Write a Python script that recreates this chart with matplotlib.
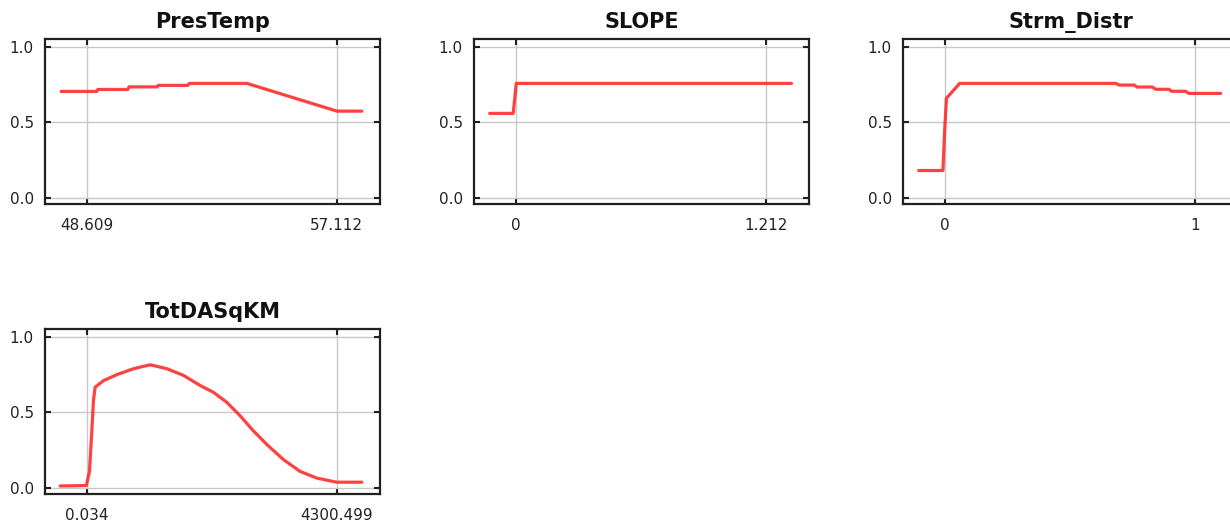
#!/usr/bin/env python3
"""Response curves for four predictor variables (2x3 grid, 4 panels)."""

import matplotlib
matplotlib.use('Agg')
import matplotlib.pyplot as plt

# Variable names and the two labelled x ticks of each panel
names = ['PresTemp', 'SLOPE', 'Strm_Distr', 'TotDASqKM']
tick_values = [(48.609, 57.112), (0.0, 1.212), (0.0, 1.0), (0.034, 4300.499)]
tick_labels = [('48.609', '57.112'), ('0', '1.212'), ('0', '1'), ('0.034', '4300.499')]

# Curves
prestemp_x = [47.74, 48.95, 48.99, 50.01, 50.05, 51.00, 51.04, 52.05, 52.10, 54.06, 57.12, 57.97]
prestemp_y = [0.705, 0.705, 0.718, 0.718, 0.735, 0.735, 0.745, 0.745, 0.758, 0.758, 0.575, 0.575]

slope_x = [-0.126, -0.012, 0.003, 1.337]
slope_y = [0.56, 0.56, 0.758, 0.758]

strm_x = [-0.104, -0.007, 0.0, 0.007, 0.06, 0.685, 0.698, 0.758, 0.769, 0.831, 0.844,
          0.897, 0.908, 0.964, 0.976, 1.104]
strm_y = [0.183, 0.183, 0.45, 0.66, 0.758, 0.758, 0.747, 0.747, 0.734, 0.734, 0.719,
          0.719, 0.706, 0.706, 0.692, 0.692]

totda_x = [-456, -5, 48, 89, 117, 146, 289, 519, 807, 1092, 1379, 1665, 1952, 2181,
           2411, 2640, 2869, 3099, 3385, 3672, 3959, 4300, 4733]
totda_y = [0.015, 0.018, 0.11, 0.38, 0.58, 0.667, 0.71, 0.75, 0.789, 0.815, 0.789,
           0.745, 0.678, 0.633, 0.567, 0.478, 0.378, 0.289, 0.189, 0.111, 0.067,
           0.04, 0.04]

curves = [(prestemp_x, prestemp_y), (slope_x, slope_y), (strm_x, strm_y), (totda_x, totda_y)]

W, H = 1230.0, 529.0
# axes boxes in pixels: (left, top)
boxes = [(45, 39), (474, 39), (903, 39), (45, 329)]
BOX_W, BOX_H = 335, 165


def draw_panel(fig, idx):
    left, top = boxes[idx]
    ax = fig.add_axes([left / W, 1 - (top + BOX_H) / H, BOX_W / W, BOX_H / H])
    t0, t1 = tick_values[idx]
    span = t1 - t0
    ax.set_xlim(t0 - 0.1667 * span, t0 + 1.1733 * span)
    ax.set_ylim(-0.038, 1.051)

    xs, ys = curves[idx]
    ax.plot(xs, ys, color='#ff2020', linewidth=2.3, alpha=0.85,
            solid_joinstyle='round', solid_capstyle='round', zorder=3)

    ax.set_xticks([t0, t1])
    ax.set_xticklabels(tick_labels[idx])
    ax.set_yticks([0.0, 0.5, 1.0])
    ax.set_yticklabels(['0.0', '0.5', '1.0'])
    ax.grid(True, color='#c8c8c8', linewidth=1.0)
    ax.set_axisbelow(True)
    ax.tick_params(direction='in', length=4, width=1.5, color='#202020',
                   top=True, right=True, labelsize=11, labelcolor='#222222')
    ax.tick_params(axis='x', pad=10)
    ax.tick_params(axis='y', pad=8)
    for sp in ax.spines.values():
        sp.set_linewidth(1.6)
        sp.set_color('#202020')
    ax.set_title(names[idx], fontsize=15, fontweight='bold', pad=8, color='#111111')
    return ax


def main():
    plt.rcParams['font.family'] = ['DejaVu Sans']
    fig = plt.figure(figsize=(W / 100, H / 100), dpi=100)
    for i in range(len(names)):
        draw_panel(fig, i)
    fig.savefig('out.png', dpi=100)
    plt.close(fig)


if __name__ == '__main__':
    main()
